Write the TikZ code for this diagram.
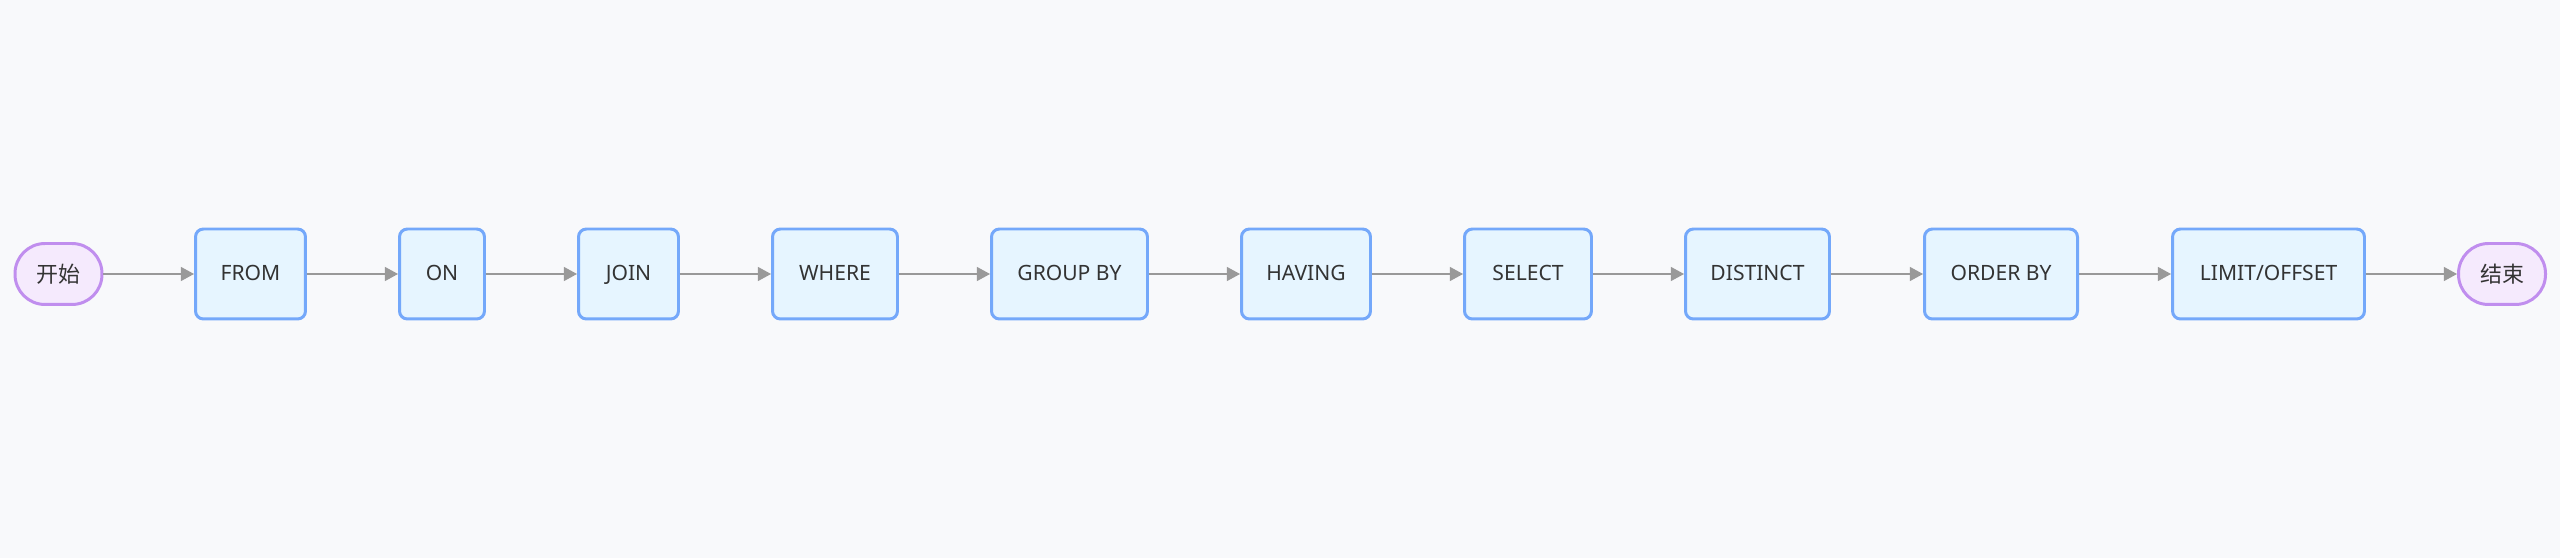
\documentclass[tikz,border=0pt]{standalone}
\usepackage{fontspec}
\setmainfont{Noto Sans}
\newfontfamily\cjkfont{Noto Sans CJK SC}
\usetikzlibrary{arrows.meta,positioning}

\definecolor{pagebg}{HTML}{F8F9FB}
\definecolor{stagefill}{HTML}{E6F5FF}
\definecolor{stageline}{HTML}{74A8FA}
\definecolor{termfill}{HTML}{F5EAFD}
\definecolor{termline}{HTML}{C08EEE}
\definecolor{flowgray}{HTML}{999999}
\definecolor{txt}{HTML}{333333}

\begin{document}
\begin{tikzpicture}[
    x=0.02cm, y=0.02cm,
    stage/.style={draw=stageline, fill=stagefill, line width=1.7pt, rounded corners=4.5pt, minimum height=1.80cm, align=center, font=\fontsize{12}{14}\selectfont, text=txt, inner sep=0pt, text height=1.6ex, text depth=0.2ex},
    term/.style={draw=termline, fill=termfill, line width=1.7pt, rounded corners=0.6cm, minimum width=1.74cm, minimum height=1.22cm, align=center, font=\cjkfont\fontsize{12.5}{14}\selectfont, text=txt, inner sep=0pt},
    flow/.style={-{Triangle[length=7.5pt, width=8pt]}, draw=flowgray, fill=flowgray, line width=0.7pt}
]
\fill[pagebg] (0,0) rectangle (2560,558);
\useasboundingbox (0,0) rectangle (2560,558);

\node[term] (start) at (58.5,284) {开始};
\node[stage, minimum width=2.20cm] (from) at (250.5,284) {FROM};
\node[stage, minimum width=1.70cm] (on) at (442,284) {ON};
\node[stage, minimum width=2.00cm] (join) at (628.5,284) {JOIN};
\node[stage, minimum width=2.50cm] (where) at (835,284) {WHERE};
\node[stage, minimum width=3.12cm] (group) at (1069.5,284) {GROUP BY};
\node[stage, minimum width=2.58cm] (having) at (1306,284) {HAVING};
\node[stage, minimum width=2.54cm] (select) at (1528,284) {SELECT};
\node[stage, minimum width=2.88cm] (distinct) at (1757.5,284) {DISTINCT};
\node[stage, minimum width=3.06cm] (order) at (2001,284) {ORDER BY};
\node[stage, minimum width=3.84cm] (limit) at (2268.5,284) {LIMIT/OFFSET};
\node[term] (stop) at (2502,284) {结束};

\draw[flow] (start) -- (from);
\draw[flow] (from) -- (on);
\draw[flow] (on) -- (join);
\draw[flow] (join) -- (where);
\draw[flow] (where) -- (group);
\draw[flow] (group) -- (having);
\draw[flow] (having) -- (select);
\draw[flow] (select) -- (distinct);
\draw[flow] (distinct) -- (order);
\draw[flow] (order) -- (limit);
\draw[flow] (limit) -- (stop);
\end{tikzpicture}
\end{document}
